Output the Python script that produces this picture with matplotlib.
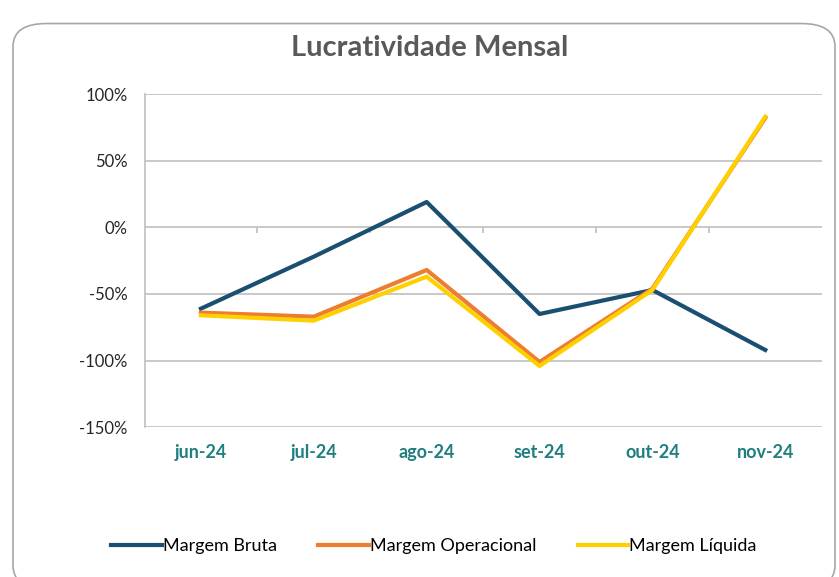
import matplotlib.pyplot as plt
from matplotlib.patches import FancyBboxPatch
from matplotlib.ticker import FuncFormatter

# data
meses = ["jun-24", "jul-24", "ago-24", "set-24", "out-24", "nov-24"]
margem_bruta = [-61, -22, 19, -65, -47, -92]
margem_operacional = [-64, -67, -32, -101, -46, 82]
margem_liquida = [-66, -70, -37, -104, -47, 83]

plt.rcParams['font.family'] = ['Lato', 'DejaVu Sans']

fig = plt.figure(figsize=(8.39, 5.77), dpi=100)

# rounded chart border
borda = FancyBboxPatch((13 / 839, -0.02), 822 / 839, (577 - 12) / 577 + 0.0,
                       boxstyle="round,pad=0,rounding_size=0.04",
                       transform=fig.transFigure, facecolor="white",
                       edgecolor="#A6A6A6", linewidth=1.2, zorder=-10)
fig.patches.append(borda)

ax = fig.add_axes([144.5 / 839, 1 - 427.3 / 577, (821.7 - 144.5) / 839, (427.3 - 94) / 577])
ax.set_facecolor("none")

x = list(range(len(meses)))
ax.plot(x, margem_bruta, color="#1B4F72", lw=3, label="Margem Bruta", zorder=3)
ax.plot(x, margem_operacional, color="#ED7D31", lw=3, label="Margem Operacional", zorder=3)
ax.plot(x, margem_liquida, color="#FFD000", lw=3, label="Margem Líquida", zorder=4)

ax.set_xlim(-0.5, len(meses) - 0.5)
ax.set_ylim(-150, 100)
ax.set_yticks([100, 50, 0, -50, -100, -150])
ax.yaxis.set_major_formatter(FuncFormatter(lambda v, p: f"{v:.0f}%"))
ax.grid(axis="y", color="#BFBFBF", lw=1.2)
ax.set_axisbelow(True)

for s in ["top", "right", "bottom"]:
    ax.spines[s].set_visible(False)
ax.spines["left"].set_color("#BFBFBF")
ax.spines["left"].set_linewidth(1.2)
ax.tick_params(axis="y", length=0, labelsize=12, pad=12, labelcolor="#262626")

ax.set_xticks(x)
ax.set_xticklabels(meses, color="#1F7F7F", fontweight="bold", fontsize=13)
ax.tick_params(axis="x", length=0, pad=12)

# category axis crosses at 0: small ticks between categories, pointing down
ax.vlines([i + 0.5 for i in range(len(meses) - 1)], -4, 0, color="#BFBFBF", lw=1.2, zorder=1)

fig.text(430 / 839, 1 - 48 / 577, "Lucratividade Mensal", ha="center", va="center",
         fontsize=21, fontweight="bold", color="#595959")

fig.legend(loc="center", bbox_to_anchor=(434 / 839, 1 - 546 / 577), ncol=3,
           frameon=False, fontsize=13, handlelength=2.8, handletextpad=0.05,
           columnspacing=2.3)

fig.savefig("out.png", dpi=100)
